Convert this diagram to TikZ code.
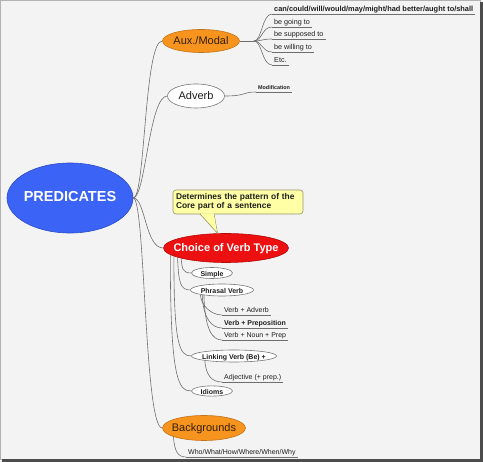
\documentclass[tikz,border=0pt]{standalone}
\usepackage{fontspec}
\setmainfont{Liberation Sans}
\usetikzlibrary{shapes.geometric}
\definecolor{bgc}{RGB}{243,243,243}
\definecolor{linec}{RGB}{110,110,110}
\definecolor{predblue}{RGB}{59,99,245}
\definecolor{predborder}{RGB}{45,75,200}
\definecolor{orangef}{RGB}{247,148,29}
\definecolor{oranged}{RGB}{195,115,25}
\definecolor{redf}{RGB}{236,16,16}
\definecolor{redd}{RGB}{180,10,10}
\definecolor{yellowf}{RGB}{255,255,165}
\definecolor{yellowd}{RGB}{150,150,110}
\definecolor{subd}{RGB}{120,120,120}
\definecolor{txt}{RGB}{30,30,30}
\definecolor{auxtxt}{RGB}{50,30,10}
\newcommand\ctext[1]{\makebox[0pt]{#1}}
\begin{document}
\begin{tikzpicture}[x=1pt,y=-1pt,
 conn/.style={draw=linec,line width=0.6pt},
 ellnode/.style={ellipse,inner sep=0pt,text height=.72em,text depth=0pt,line width=0.6pt},
 mainnode/.style={ellnode,font=\fontsize{11}{13}\selectfont},
 subnode/.style={ellnode,draw=subd,fill=white,text=txt,font=\fontsize{7}{8}\selectfont\bfseries},
 leaf/.style={anchor=south west,inner xsep=2pt,inner ysep=1pt,text height=5.5pt,text depth=1.7pt,text=txt,font=\fontsize{7.2}{8}\selectfont},
 uline/.style={draw=linec,line width=0.6pt}
]
\useasboundingbox (0,0) rectangle (483,462);
\fill[bgc] (0,0) rectangle (483,462);
\draw[gray!60,line width=0.8pt] (0.5,0.5) rectangle (480,459);
\fill[gray!60!black] (480,2) rectangle (483,462);
\fill[gray!60!black] (2,459) rectangle (483,462);

% main nodes
\node[mainnode,fill=predblue,draw=predborder,text=white,minimum width=126pt,minimum height=70pt,font=\fontsize{14.5}{16}\selectfont\bfseries] (pred) at (70,198) {\ctext{PREDICATES}};
\node[mainnode,fill=orangef,draw=oranged,text=auxtxt,minimum width=77pt,minimum height=23pt] (aux) at (201,41) {\ctext{Aux./Modal}};
\node[mainnode,fill=white,draw=subd,text=txt,minimum width=57pt,minimum height=24pt] (adverb) at (196,96) {\ctext{Adverb}};
\node[mainnode,fill=redf,draw=redd,text=white,font=\fontsize{11}{13}\selectfont\bfseries,minimum width=125pt,minimum height=29pt] (choice) at (226,248) {\ctext{Choice of Verb Type}};
\node[mainnode,fill=orangef,draw=oranged,text=auxtxt,minimum width=83pt,minimum height=25pt] (backg) at (204,428) {\ctext{Backgrounds}};

% sub nodes
\node[subnode,minimum width=41pt,minimum height=11pt] (simple) at (212,273) {\ctext{Simple}};
\node[subnode,minimum width=63pt,minimum height=12pt] (phrasal) at (222,290) {\ctext{Phrasal Verb}};
\node[subnode,minimum width=85pt,minimum height=12pt] (linking) at (234,356) {\ctext{Linking Verb (Be) +}};
\node[subnode,minimum width=41pt,minimum height=10pt] (idioms) at (212,391) {\ctext{Idioms}};

% leaves
\node[leaf,font=\fontsize{7.4}{8}\selectfont\bfseries] (m1) at (272,14) {can/could/will/would/may/might/had better/aught to/shall};
\node[leaf] (m2) at (272,27) {be going to};
\node[leaf] (m3) at (272,39) {be supposed to};
\node[leaf] (m4) at (272,52) {be willing to};
\node[leaf] (m5) at (272,65) {Etc.};
\node[leaf,font=\fontsize{5.4}{6}\selectfont\bfseries,text height=4pt,text depth=1.2pt] (mod) at (256,92) {Modification};
\node[leaf,font=\fontsize{7}{8}\selectfont] (p1) at (222,315) {Verb + Adverb};
\node[leaf,font=\fontsize{7}{8}\selectfont\bfseries] (p2) at (222,328) {Verb + Preposition};
\node[leaf,font=\fontsize{7}{8}\selectfont] (p3) at (222,340) {Verb + Noun + Prep};
\node[leaf,font=\fontsize{7}{8}\selectfont] (adj) at (222,382) {Adjective (+ prep.)};
\node[leaf,font=\fontsize{7}{8}\selectfont] (who) at (186,457) {Who/What/How/Where/When/Why};
\foreach \n in {m1,m2,m3,m4,m5,mod,p1,p2,p3,adj,who}
  \draw[uline] (\n.south west) -- (\n.south east);

% callout
\node[rectangle,rounded corners=3pt,fill=yellowf,draw=yellowd,line width=0.6pt,
  minimum width=130pt,minimum height=24pt,text width=124pt,inner xsep=3pt,align=left,
  font=\fontsize{8.4}{9}\selectfont\bfseries,text=txt] (callout) at (238,202)
  {Determines the pattern of the\\Core part of a sentence};
\coordinate (cpa) at (200,214);
\coordinate (cpb) at (214,214);
\filldraw[fill=yellowf,draw=yellowd,line width=0.6pt,line join=round] (cpa) -- (choice.120) -- (cpb);
\fill[yellowf] (200.9,213.4) -- (216.8,231.5) -- (213.6,213.4) -- cycle;

% connectors from the root
\foreach \n in {aux,adverb,choice,backg}
  \draw[conn] (pred.east) .. controls +(12,0) and +(-18,0) .. (\n.west);

% Aux./Modal branch
\coordinate (auxf) at (254,41);
\draw[conn] (aux.east) -- (auxf);
\foreach \n in {m1,m2,m3,m4,m5}
  \draw[conn] (auxf) .. controls +(8,0) and +(-10,0) .. (\n.south west);

% Adverb branch
\draw[conn] (adverb.east) .. controls +(22,0) and +(-14,0) .. (mod.south west);

% Choice of Verb Type branch
\draw[conn] (choice.193) .. controls +(1,10) and +(-9,0) .. (simple.west);
\draw[conn] (choice.191) .. controls +(1,25) and +(-10,0) .. (phrasal.west);
\draw[conn] (choice.189) .. controls +(0,88) and +(-12,0) .. (linking.west);
\draw[conn] (choice.187) .. controls +(0,124) and +(-13,0) .. (idioms.west);
\draw[conn] (phrasal.192) .. controls +(1,12) and +(-10,0) .. (p1.south west);
\draw[conn] (phrasal.194) .. controls +(1,24) and +(-10,0) .. (p2.south west);
\draw[conn] (phrasal.196) .. controls +(1,34) and +(-10,0) .. (p3.south west);
\draw[conn] (linking.189) .. controls +(1,15) and +(-10,0) .. (adj.south west);

% Backgrounds branch
\draw[conn] (backg.196) .. controls +(1,15) and +(-8,0) .. (who.south west);
\end{tikzpicture}
\end{document}
